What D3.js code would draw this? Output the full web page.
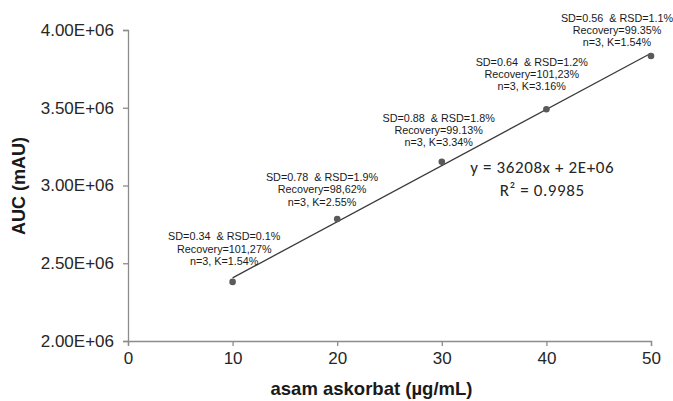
<!DOCTYPE html>
<html>
<head>
<meta charset="utf-8">
<script src="https://cdn.jsdelivr.net/npm/d3@7"></script>
<style>
  body { margin: 0; background: #fff; }
  text { font-family: "Liberation Sans", Arial, sans-serif; white-space: pre; }
</style>
</head>
<body>
<div id="chart"></div>
<script>
var width = 673;
var height = 401;

// concentration (ug/mL) and peak area
var conc = [10, 20, 30, 40, 50];
var auc = [2380000, 2785000, 3152000, 3490000, 3833000];

// annotation text per point
var notes = [
  ["SD=0.34  & RSD=0.1%", "Recovery=101,27%", "n=3, K=1.54%"],
  ["SD=0.78  & RSD=1.9%", "Recovery=98,62%", "n=3, K=2.55%"],
  ["SD=0.88  & RSD=1.8%", "Recovery=99.13%", "n=3, K=3.34%"],
  ["SD=0.64  & RSD=1.2%", "Recovery=101,23%", "n=3, K=3.16%"],
  ["SD=0.56  & RSD=1.1%", "Recovery=99.35%", "n=3, K=1.54%"]
];
// where each note sits, in chart units (x, y of last line)
var noteX = [9.2, 18.55, 29.7, 38.6, 46.75];
var noteY = [2490000, 2871000, 3251000, 3611000, 3894000];

var xTicks = [0, 10, 20, 30, 40, 50];
var yTicks = [2000000, 2500000, 3000000, 3500000, 4000000];

var eqText = ["y = 36208x + 2E+06", "R² = 0.9985"];
var eqPos = [39.6, 3080000];

var margin = {top: 30, right: 22, bottom: 60, left: 128};

var svg = d3.select("#chart")
  .append("svg")
    .attr("width", width)
    .attr("height", height);

var x = d3.scaleLinear()
  .domain([0, 50])
  .range([margin.left, width - margin.right]);

var y = d3.scaleLinear()
  .domain([2000000, 4000000])
  .range([height - margin.bottom, margin.top]);

//axes
var xAxis = svg.append("g")
  .attr("transform", "translate(0," + (height - margin.bottom) + ")")
  .call(d3.axisBottom(x).tickValues(xTicks).tickSizeOuter(0).tickSize(5).tickPadding(6));

var yAxis = svg.append("g")
  .attr("transform", "translate(" + margin.left + ",0)")
  .call(d3.axisLeft(y).tickValues(yTicks).tickSizeOuter(0).tickSize(5).tickPadding(9)
    .tickFormat(function(d) { return (d / 1e6).toFixed(2) + "E+06"; }));

svg.selectAll(".domain, .tick line").attr("stroke", "#8c8c8c").attr("stroke-width", 1.3);
svg.selectAll(".tick text")
  .attr("fill", "#262626")
  .style("font-size", "17px")
  .style("font-family", "'Liberation Sans', Arial, sans-serif");

//trend line (least squares)
var mx = d3.mean(conc), my = d3.mean(auc);
var sxy = d3.sum(conc, function(d, i) { return (d - mx) * (auc[i] - my); });
var sxx = d3.sum(conc, function(d) { return (d - mx) * (d - mx); });
var slope = sxy / sxx;
var icpt = my - slope * mx;
var xs = d3.extent(conc);

svg.append("line")
  .attr("x1", x(xs[0])).attr("y1", y(slope * xs[0] + icpt))
  .attr("x2", x(xs[1])).attr("y2", y(slope * xs[1] + icpt))
  .attr("stroke", "#3a3a3a")
  .attr("stroke-width", 1.3);

//points
svg.selectAll("circle")
  .data(conc)
  .join("circle")
    .attr("cx", function(d) { return x(d); })
    .attr("cy", function(d, i) { return y(auc[i]); })
    .attr("r", 3.3)
    .attr("fill", "#5a5a5a");

//notes
notes.forEach(function(lines, i) {
  var t = svg.append("text")
    .attr("text-anchor", "middle")
    .attr("fill", "#1a1a1a")
    .style("font-size", "10.8px");
  lines.forEach(function(s, j) {
    t.append("tspan")
      .attr("x", x(noteX[i]))
      .attr("y", y(noteY[i]) - (lines.length - 1 - j) * 12.3)
      .text(s);
  });
});

//equation
eqText.forEach(function(s, j) {
  svg.append("text")
    .attr("x", x(eqPos[0]))
    .attr("y", y(eqPos[1]) + j * 23)
    .attr("text-anchor", "middle")
    .attr("fill", "#262626")
    .style("font-family", "Carlito, 'Open Sans', sans-serif")
    .style("font-size", "17px")
    .style("letter-spacing", "0.6px")
    .text(s);
});

//axis titles
svg.append("text")
  .attr("x", (margin.left + width - margin.right) / 2 - 18)
  .attr("y", height - 6)
  .attr("text-anchor", "middle")
  .attr("fill", "#1a1a1a")
  .style("font-size", "18.5px")
  .style("font-weight", "bold")
  .text("asam askorbat (µg/mL)");

svg.append("text")
  .attr("transform", "translate(25," + 186 + ") rotate(-90)")
  .attr("text-anchor", "middle")
  .attr("fill", "#1a1a1a")
  .style("font-size", "18px")
  .style("font-weight", "bold")
  .text("AUC (mAU)");
</script>
</body>
</html>
